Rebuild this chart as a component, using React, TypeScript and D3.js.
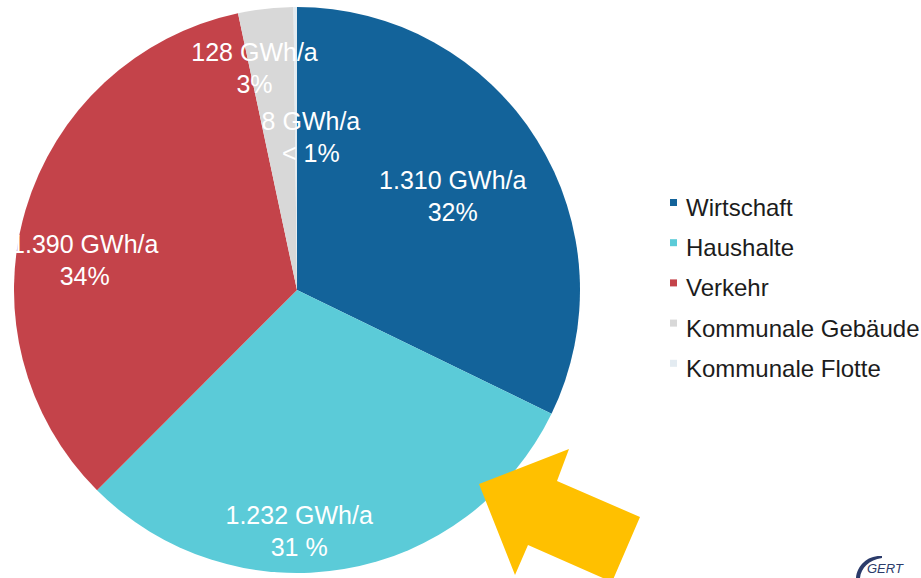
import { arc, pie, pointRadial } from 'd3'
import type { PieArcDatum } from 'd3'

const categories = ['Wirtschaft', 'Haushalte', 'Verkehr', 'Kommunale Gebäude', 'Kommunale Flotte']
const energyValues = [1310, 1232, 1390, 128, 8]
const valueLabels = ['1.310 GWh/a', '1.232 GWh/a', '1.390 GWh/a', '128 GWh/a', '8 GWh/a']
const shareLabels = ['32%', '31 %', '34%', '3%', '< 1%']

const sliceColors = ['#13639a', '#5bcbd8', '#c4434a', '#d8d8d8', '#e3ebf1']

const width = 921
const height = 578
const center = { x: 297, y: 290 }
const radius = 283

// label nudges from the label-arc centroid, tuned by eye
const labelNudge: Record<string, [number, number]> = {
  Wirtschaft: [7, -4],
  Haushalte: [-27, 65],
  Verkehr: [-44, 16],
  'Kommunale Gebäude': [-23, -51],
  'Kommunale Flotte': [15, 19],
}

type Slice = { category: string; value: number; index: number }

const slices: Slice[] = categories.map((category, index) => ({
  category,
  value: energyValues[index],
  index,
}))

function App() {
  const pieLayout = pie<Slice>()
    .sort(null)
    .value((d) => d.value)

  const arcs = pieLayout(slices)

  const arcPath = arc<PieArcDatum<Slice>>().innerRadius(0).outerRadius(radius)

  const labelFont = "'Liberation Sans', Arial, Helvetica, sans-serif"

  return (
    <svg
      width={width}
      height={height}
      viewBox={`0 0 ${width} ${height}`}
      style={{ position: 'absolute', left: 0, top: 0, background: '#ffffff' }}
    >
      <g transform={`translate(${center.x}, ${center.y})`}>
        {arcs.map((d) => (
          <path key={d.data.category} d={arcPath(d) ?? ''} fill={sliceColors[d.data.index]} />
        ))}

        {arcs.map((d) => {
          const mid = (d.startAngle + d.endAngle) / 2
          const [cx, cy] = pointRadial(mid, radius * 0.62)
          const [nx, ny] = labelNudge[d.data.category]
          const x = cx + nx
          const y = cy + ny

          return (
            <text
              key={`${d.data.category}-label`}
              x={x}
              y={y}
              textAnchor="middle"
              fill="#ffffff"
              fontFamily={labelFont}
              fontSize={25}
            >
              <tspan x={x} dy="-0.15em">
                {valueLabels[d.data.index]}
              </tspan>
              <tspan x={x} dy="1.28em">
                {shareLabels[d.data.index]}
              </tspan>
            </text>
          )
        })}
      </g>

      <g transform="translate(670, 216)">
        {categories.map((category, i) => (
          <g key={`${category}-legend`} transform={`translate(0, ${i * 40.2})`}>
            <rect x={0} y={-17} width={7} height={7} fill={sliceColors[i]} />
            <text x={16} y={0} fill="#1c1c1c" fontFamily={labelFont} fontSize={24}>
              {category}
            </text>
          </g>
        ))}
      </g>

      <polygon
        points="479,484 569,449 557,481 640,517 612,582 528,545 515,575"
        fill="#ffc000"
      />

      <g fill="#2b3b6a">
        <path d="M 882 556 C 868 555, 857 565, 856 578 L 860 578 C 861 568, 869 560, 882 558 Z" />
        <text x={867} y={573} fontFamily={labelFont} fontSize={13} fontStyle="italic">
          GERT
        </text>
      </g>
    </svg>
  )
}

export default App
